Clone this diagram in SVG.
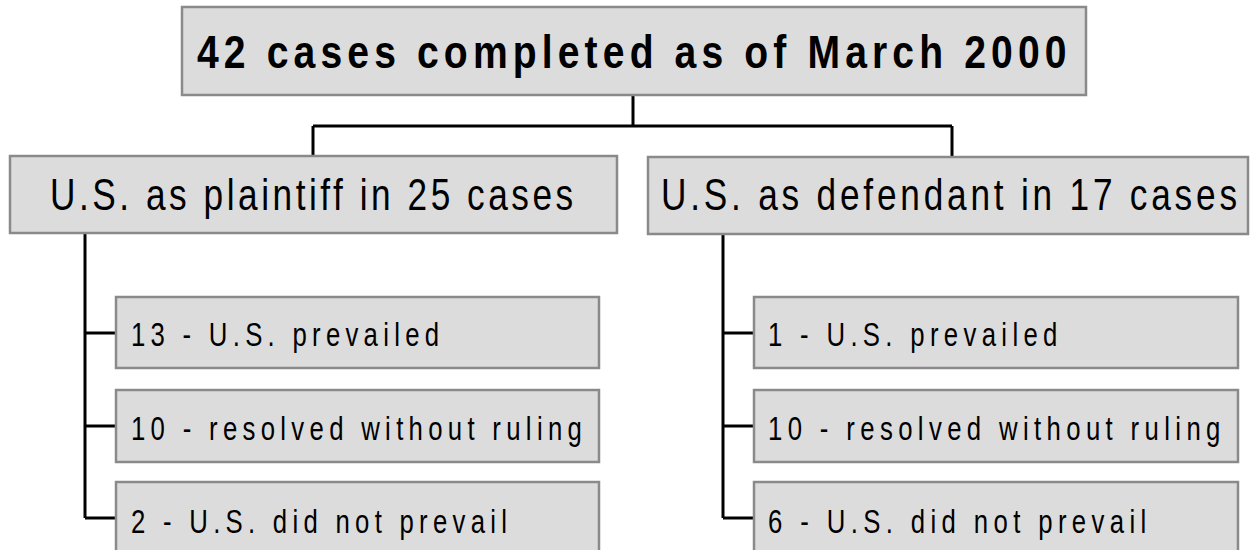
<svg xmlns="http://www.w3.org/2000/svg" width="1252" height="550" viewBox="0 0 1252 550">
<style>
.box{fill:#dcdcdc;stroke:#8a8a8a;stroke-width:2.5}
.ln{stroke:#000;stroke-width:3;fill:none}
.t{font-family:"Liberation Sans",Arial,sans-serif;fill:#000}
.title{font-size:46px;font-weight:bold}
.l2{font-size:44px}
.leaf{font-size:33px}
</style>
<rect width="1252" height="550" fill="#fff"/>
<g id="connectors">
<path class="ln" d="M633 95V126M313 126H952M313 126V156M952 126V157"/>
<path class="ln" d="M85 234V518M85 333H116M85 426H116M85 518H116"/>
<path class="ln" d="M723 234V518M723 333H754M723 426H754M723 518H754"/>
</g>
<g id="root">
<rect class="box" x="182" y="7" width="904" height="88"/>
<text class="t title" transform="translate(197,68) scale(0.85,1)" textLength="1023" lengthAdjust="spacing">42 cases completed as of March 2000</text>
</g>
<g id="plaintiff">
<rect class="box" x="10" y="156" width="607" height="77"/>
<text class="t l2" transform="translate(50,210) scale(0.8,1)" textLength="654" lengthAdjust="spacing">U.S. as plaintiff in 25 cases</text>
</g>
<g id="defendant">
<rect class="box" x="648" y="157" width="600" height="77"/>
<text class="t l2" transform="translate(661,210) scale(0.8,1)" textLength="720" lengthAdjust="spacing">U.S. as defendant in 17 cases</text>
</g>
<g id="p-prevailed">
<rect class="box" x="116" y="297" width="483" height="71"/>
<text class="t leaf" transform="translate(131,346) scale(0.78,1)" textLength="395" lengthAdjust="spacing">13 - U.S. prevailed</text>
</g>
<g id="p-resolved">
<rect class="box" x="116" y="390" width="483" height="72"/>
<text class="t leaf" transform="translate(131,440) scale(0.78,1)" textLength="578" lengthAdjust="spacing">10 - resolved without ruling</text>
</g>
<g id="p-notprevail">
<rect class="box" x="116" y="482" width="483" height="72"/>
<text class="t leaf" transform="translate(131,533) scale(0.78,1)" textLength="482" lengthAdjust="spacing">2 - U.S. did not prevail</text>
</g>
<g id="d-prevailed">
<rect class="box" x="754" y="297" width="484" height="71"/>
<text class="t leaf" transform="translate(768,346) scale(0.78,1)" textLength="371" lengthAdjust="spacing">1 - U.S. prevailed</text>
</g>
<g id="d-resolved">
<rect class="box" x="754" y="390" width="484" height="72"/>
<text class="t leaf" transform="translate(768,440) scale(0.78,1)" textLength="580" lengthAdjust="spacing">10 - resolved without ruling</text>
</g>
<g id="d-notprevail">
<rect class="box" x="754" y="482" width="484" height="72"/>
<text class="t leaf" transform="translate(768,533) scale(0.78,1)" textLength="485" lengthAdjust="spacing">6 - U.S. did not prevail</text>
</g>
</svg>
